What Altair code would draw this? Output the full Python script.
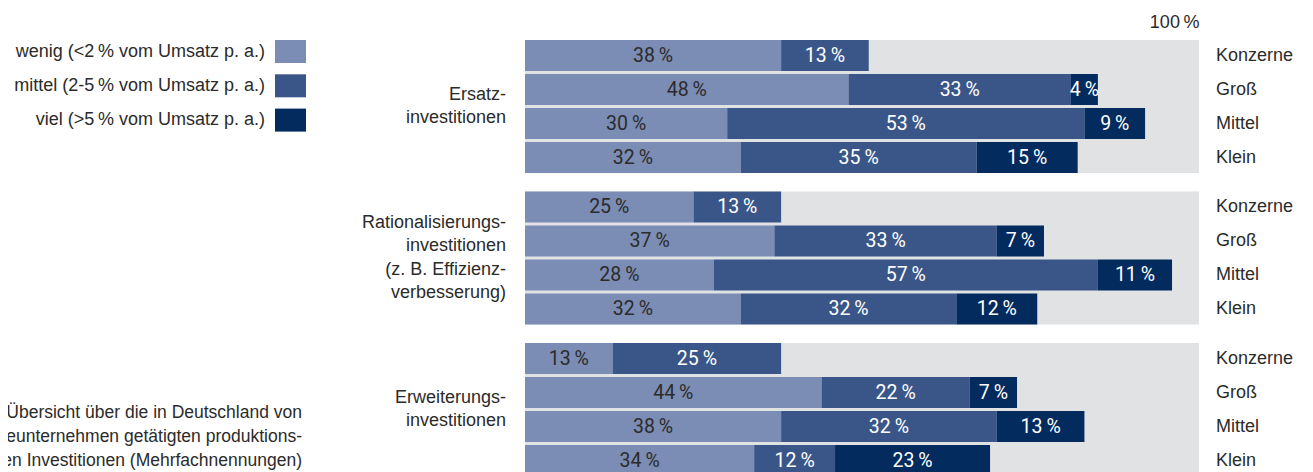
import altair as alt
import pandas as pd

# ---- data -------------------------------------------------------------
group_keys = ["Ersatz", "Rationalisierung", "Erweiterung"]
group_labels = [
    "Ersatz-\ninvestitionen",
    "Rationalisierungs-\ninvestitionen\n(z. B. Effizienz-\nverbesserung)",
    "Erweiterungs-\ninvestitionen",
]
sizes = ["Konzerne", "Groß", "Mittel", "Klein"]
categories = [
    "wenig (<2\u2009% vom Umsatz p. a.)",
    "mittel (2-5\u2009% vom Umsatz p. a.)",
    "viel (>5\u2009% vom Umsatz p. a.)",
]
colors = ["#7b8db4", "#3a5688", "#032b5e"]

ersatz_wenig = [38, 48, 30, 32]
ersatz_mittel = [13, 33, 53, 35]
ersatz_viel = [None, 4, 9, 15]

rational_wenig = [25, 37, 28, 32]
rational_mittel = [13, 33, 57, 32]
rational_viel = [None, 7, 11, 12]

erweit_wenig = [13, 44, 38, 34]
erweit_mittel = [25, 22, 32, 12]
erweit_viel = [None, 7, 13, 23]

caption = ("Abbildung 6: Übersicht über die in Deutschland von\n"
           "Chemieunternehmen getätigten produktions-\n"
           "technischen Investitionen (Mehrfachnennungen)")

series = {
    "Ersatz": [ersatz_wenig, ersatz_mittel, ersatz_viel],
    "Rationalisierung": [rational_wenig, rational_mittel, rational_viel],
    "Erweiterung": [erweit_wenig, erweit_mittel, erweit_viel],
}

rows = []
for g in group_keys:
    for ci, vals in enumerate(series[g]):
        for s, v in zip(sizes, vals):
            if v is not None:
                rows.append({"group": g, "size": s, "cat": categories[ci], "ci": ci, "value": v})
bars_df = pd.DataFrame(rows)
bg_df = pd.DataFrame({"group": group_keys})
glabel_df = pd.DataFrame({"group": group_keys, "label": group_labels})
size_df = pd.DataFrame([{"group": g, "size": s} for g in group_keys for s in sizes])
legend_df = pd.DataFrame({"cat": categories, "ci": list(range(len(categories)))})
caption_df = pd.DataFrame({"text": [caption]})

# ---- styling ----------------------------------------------------------
FONT = "Liberation Sans, Arial, sans-serif"
LABELFONT = "Roboto, Liberation Sans, sans-serif"
TXT = "#2b2b2b"
W, H = 674, 436
LH = 23.6

yscale = alt.Scale(domain=group_keys, paddingInner=18.5 / 151.5, paddingOuter=0)
yoff_scale = alt.Scale(domain=sizes, paddingInner=3 / 34, paddingOuter=0)
xscale = alt.Scale(domain=[0, 100], nice=False, zero=True)
color_scale = alt.Scale(domain=categories, range=colors)

bg = alt.Chart(bg_df).mark_bar(color="#e1e2e4").encode(
    x=alt.X(datum=0, scale=xscale,
            axis=alt.Axis(orient="top", values=[100], labelExpr="'100\u2009%'",
                          domain=False, ticks=False, grid=False, title=None,
                          labelAlign="right", labelPadding=9, labelFontSize=18,
                          labelFont=FONT, labelColor=TXT)),
    x2=alt.X2(datum=100),
    y=alt.Y("group:N", scale=yscale, axis=None),
)

stacked = alt.Chart(bars_df).transform_stack(
    stack="value", groupby=["group", "size"], as_=["x0", "x1"],
    sort=[alt.SortField("ci", order="ascending")],
).transform_calculate(
    mid="(datum.x0 + datum.x1) / 2",
    lbl="datum.value + '\u2009%'",
)

bars = stacked.mark_bar().encode(
    x=alt.X("x0:Q", scale=xscale),
    x2="x1:Q",
    y=alt.Y("group:N", scale=yscale, axis=None),
    yOffset=alt.YOffset("size:N", scale=yoff_scale),
    color=alt.Color("cat:N", scale=color_scale, legend=None),
)

bar_text = stacked.mark_text(font=LABELFONT, fontSize=19.5, align="center", baseline="middle").encode(
    x=alt.X("mid:Q", scale=xscale),
    y=alt.Y("group:N", scale=yscale, axis=None),
    yOffset=alt.YOffset("size:N", scale=yoff_scale),
    text="lbl:N",
    color=alt.condition("datum.ci == 0", alt.value(TXT), alt.value("white")),
)

size_text = alt.Chart(size_df).mark_text(font=FONT, fontSize=18, align="left",
                                         baseline="middle", color=TXT).encode(
    x=alt.value(W + 17),
    y=alt.Y("group:N", scale=yscale, axis=None),
    yOffset=alt.YOffset("size:N", scale=yoff_scale),
    text="size:N",
)

# group labels: one layer per group so each multi-line block is centred on its band
group_layers = []
for g, lab in zip(group_keys, group_labels):
    n = len(lab.split("\n"))
    group_layers.append(
        alt.Chart(glabel_df).transform_filter(alt.datum.group == g).mark_text(
            font=FONT, fontSize=18, align="right", baseline="middle", lineBreak="\n",
            lineHeight=LH, color=TXT, dy=-(n - 1) * LH / 2,
        ).encode(
            x=alt.value(-19),
            y=alt.Y("group:N", scale=yscale, axis=None),
            text="label:N",
        )
    )

legend_base = alt.Chart(legend_df).transform_calculate(
    ly0="datum.ci * 34.3",
    ly1="datum.ci * 34.3 + 23",
    lyc="datum.ci * 34.3 + 11.5",
)
legend_rect = legend_base.mark_rect().encode(
    x=alt.value(-250), x2=alt.value(-219),
    y=alt.Y("ly0:Q", scale=None, axis=None), y2="ly1:Q",
    color=alt.Color("cat:N", scale=color_scale, legend=None),
)
legend_text = legend_base.mark_text(font=FONT, fontSize=18, align="right",
                                    baseline="middle", color=TXT).encode(
    x=alt.value(-260),
    y=alt.Y("lyc:Q", scale=None, axis=None),
    text="cat:N",
)

caption_text = alt.Chart(caption_df).mark_text(font=FONT, fontSize=17.5, align="right",
                                               baseline="middle", lineBreak="\n",
                                               lineHeight=24, color=TXT).encode(
    x=alt.value(-223), y=alt.value(373), text="text:N",
)

chart = alt.layer(
    bg, bars, bar_text, size_text, *group_layers, legend_rect, legend_text, caption_text
).properties(
    width=W, height=H,
    autosize=alt.AutoSizeParams(type="none"),
    padding={"left": 517, "top": 32, "right": 106, "bottom": 0},
).configure_view(stroke=None)

chart.save("out.html", embed_options={"renderer": "svg", "actions": False})
